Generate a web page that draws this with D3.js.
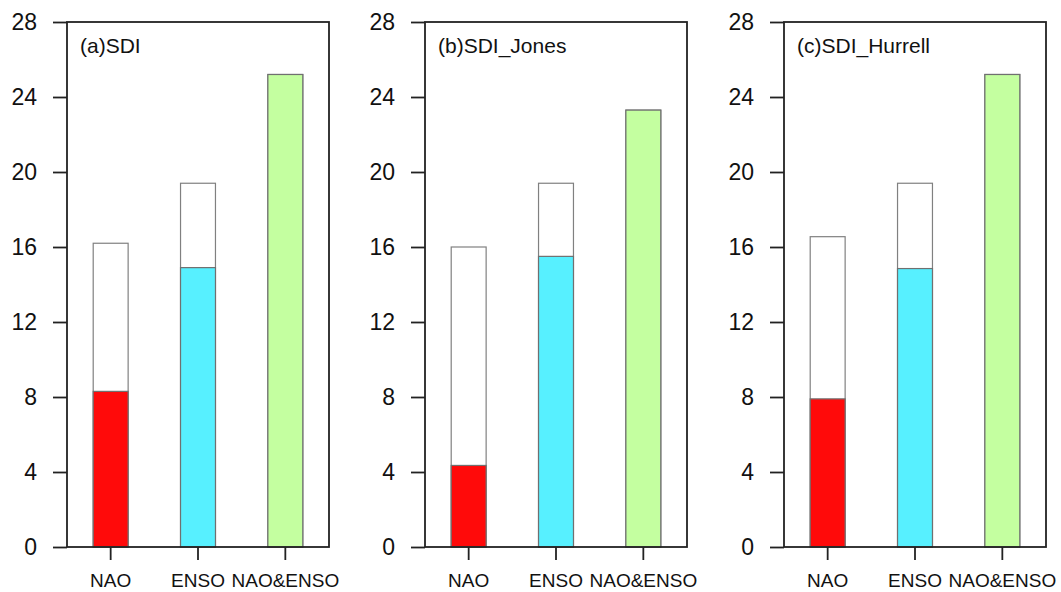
<!DOCTYPE html>
<html>
<head>
<meta charset="utf-8">
<script src="https://cdn.jsdelivr.net/npm/d3@7"></script>
<style>
  body { margin: 0; background: #fff; }
  svg { display: block; font-family: "Liberation Sans", Arial, sans-serif; }
</style>
</head>
<body>
<div id="chart"></div>
<script>
const categories = ['NAO', 'ENSO', 'NAO&ENSO'];
const panelTitles = ['(a)SDI', '(b)SDI_Jones', '(c)SDI_Hurrell'];
// full bar heights (outline bars)
const totalValues = [
    [16.2, 19.4, 25.2],
    [16.0, 19.4, 23.3],
    [16.55, 19.4, 25.2],
];
// coloured part of each bar
const partValues = [
    [8.3, 14.9, 25.2],
    [4.35, 15.5, 23.3],
    [7.9, 14.85, 25.2],
];
const barColors = ['#ff0a0a', '#57f0ff', '#c4ffa0'];
const yTicks = [0, 4, 8, 12, 16, 20, 24, 28];

const width = 1061, height = 592;
const panelLeft = [67, 425, 784];
const boxW = 262, boxTop = 22, boxBottom = 547;

const svg = d3.select('#chart')
    .append('svg')
    .attr('width', width)
    .attr('height', height);

const y = d3.scaleLinear().domain([0, 28]).range([boxBottom, boxTop]);

panelTitles.forEach((title, p) => {
    const x = d3.scaleBand()
        .domain(categories)
        .range([0, boxW])
        .padding(0);
    const barW = x.bandwidth() * 0.4;

    const g = svg.append('g')
        .attr('transform', `translate(${panelLeft[p]},0)`);

    // outline bars (total)
    g.selectAll('.total')
        .data(categories)
        .enter()
        .append('rect')
        .attr('class', 'total')
        .attr('x', d => x(d) + (x.bandwidth() - barW) / 2)
        .attr('width', barW)
        .attr('y', (d, i) => y(totalValues[p][i]))
        .attr('height', (d, i) => y(0) - y(totalValues[p][i]))
        .attr('fill', '#fff')
        .attr('stroke', '#808080')
        .attr('stroke-width', 1.2);

    // coloured part
    g.selectAll('.part')
        .data(categories)
        .enter()
        .append('rect')
        .attr('class', 'part')
        .attr('x', d => x(d) + (x.bandwidth() - barW) / 2)
        .attr('width', barW)
        .attr('y', (d, i) => y(partValues[p][i]))
        .attr('height', (d, i) => y(0) - y(partValues[p][i]))
        .attr('fill', (d, i) => barColors[i])
        .attr('stroke', '#707070')
        .attr('stroke-width', 1.2);

    // frame
    g.append('rect')
        .attr('x', 0)
        .attr('y', boxTop)
        .attr('width', boxW)
        .attr('height', boxBottom - boxTop)
        .attr('fill', 'none')
        .attr('stroke', '#222')
        .attr('stroke-width', 1.8);

    // y axis
    const yAxis = g.append('g')
        .call(d3.axisLeft(y).tickValues(yTicks).tickSize(14).tickPadding(16));
    yAxis.select('.domain').remove();
    yAxis.selectAll('line').attr('stroke', '#222').attr('stroke-width', 1.8);
    yAxis.selectAll('text')
        .attr('font-size', 23)
        .attr('fill', '#111')
        .attr('font-family', '"Liberation Sans", Arial, sans-serif');

    // x axis
    const xAxis = g.append('g')
        .attr('transform', `translate(0,${boxBottom})`)
        .call(d3.axisBottom(x).tickSize(13).tickPadding(14));
    xAxis.select('.domain').remove();
    xAxis.selectAll('line').attr('stroke', '#222').attr('stroke-width', 1.8);
    xAxis.selectAll('text')
        .attr('font-size', 19)
        .attr('fill', '#111')
        .attr('font-family', '"Liberation Sans", Arial, sans-serif');

    // panel title
    g.append('text')
        .attr('x', 13)
        .attr('y', 53)
        .attr('font-size', 21)
        .attr('fill', '#111')
        .text(title);
});
</script>
</body>
</html>
